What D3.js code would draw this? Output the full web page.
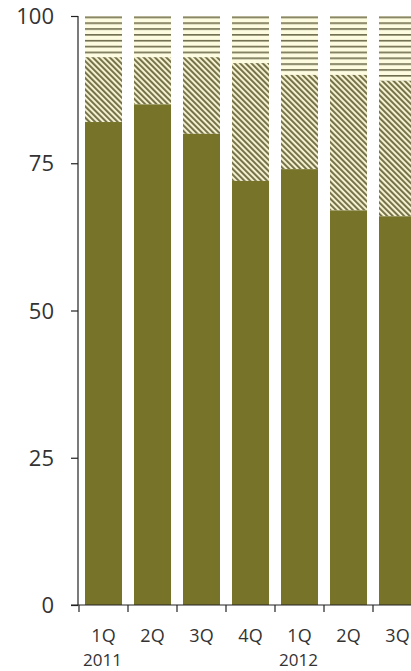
<!DOCTYPE html>
<html><head><meta charset="utf-8">
<script src="https://cdn.jsdelivr.net/npm/d3@7"></script>
<style>html,body{margin:0;padding:0;background:#fff;overflow:hidden}</style>
</head><body>
<script>
const quarters = ["1Q","2Q","3Q","4Q","1Q","2Q","3Q"];
const years = ["2011","","","","2012","",""];
const solidValues = [82,85,80,72,74,67,66];
const diagTop = [93,93,93,92,90,90,89];
const totalTop = [100,100,100,100,100,100,100];
const yTicks = [0,25,50,75,100];

const W=411,H=671;
const svg=d3.select("body").append("svg").attr("width",W).attr("height",H);
const defs=svg.append("defs");
const hp=defs.append("pattern").attr("id","hlines").attr("patternUnits","userSpaceOnUse")
  .attr("width",10).attr("height",5.85).attr("y",16.5);
hp.append("rect").attr("width",10).attr("height",5.85).attr("fill","#fdfbe0");
hp.append("rect").attr("y",0).attr("width",10).attr("height",1.6).attr("fill","#6e6c4c");
const dp=defs.append("pattern").attr("id","diag").attr("patternUnits","userSpaceOnUse")
  .attr("width",4).attr("height",4).attr("patternTransform","rotate(-45)");
dp.append("rect").attr("width",4).attr("height",4).attr("fill","#fbf8d8");
dp.append("rect").attr("width",2.1).attr("height",4).attr("fill","#76734a");

const x=d3.scaleBand().domain(d3.range(quarters.length)).range([79,422]).paddingInner(0.245).paddingOuter(0.1225);
const y=d3.scaleLinear().domain([0,100]).range([605,16]);

const g=svg.append("g");
g.selectAll(".top").data(totalTop).join("rect")
  .attr("x",(d,i)=>x(i)).attr("width",x.bandwidth())
  .attr("y",d=>y(d)).attr("height",(d,i)=>y(diagTop[i])-y(d))
  .attr("fill","url(#hlines)");
g.selectAll(".mid").data(diagTop).join("rect")
  .attr("x",(d,i)=>x(i)).attr("width",x.bandwidth())
  .attr("y",d=>y(d)).attr("height",(d,i)=>y(solidValues[i])-y(d))
  .attr("fill","url(#diag)");
g.selectAll(".solid").data(solidValues).join("rect")
  .attr("x",(d,i)=>x(i)).attr("width",x.bandwidth())
  .attr("y",d=>y(d)).attr("height",d=>y(0)-y(d))
  .attr("fill","#77742a");

// y axis
const ya=svg.append("g").attr("transform","translate(78,0)")
  .call(d3.axisLeft(y).tickValues(yTicks).tickSize(7).tickPadding(17));
ya.select(".domain").attr("stroke","#222").attr("stroke-width",1.2).attr("d","M0,16V605");
ya.selectAll(".tick line").attr("stroke","#222").attr("stroke-width",1.2);
ya.selectAll("text").attr("font-family","'Open Sans',sans-serif").attr("font-size",22).attr("fill","#333").attr("dy","0.35em");

// x axis
const step=x.step();
svg.append("line").attr("x1",71).attr("x2",W).attr("y1",605).attr("y2",605).attr("stroke","#222").attr("stroke-width",1.2);
svg.selectAll(".xt").data(d3.range(quarters.length+1)).join("line")
  .attr("x1",i=>x.range()[0]+i*step).attr("x2",i=>x.range()[0]+i*step)
  .attr("y1",605).attr("y2",612).attr("stroke","#222").attr("stroke-width",1.2);
svg.selectAll(".ql").data(quarters).join("text")
  .attr("x",(d,i)=>x(i)+x.bandwidth()/2).attr("y",642).attr("text-anchor","middle")
  .attr("font-family","'Open Sans',sans-serif").attr("font-size",18).attr("fill","#333").text(d=>d);
svg.selectAll(".yl").data(years).join("text")
  .attr("x",(d,i)=>x(i)+x.bandwidth()/2-1).attr("y",666).attr("text-anchor","middle")
  .attr("font-family","'Open Sans',sans-serif").attr("font-size",17).attr("fill","#333").text(d=>d);
</script>
</body></html>
